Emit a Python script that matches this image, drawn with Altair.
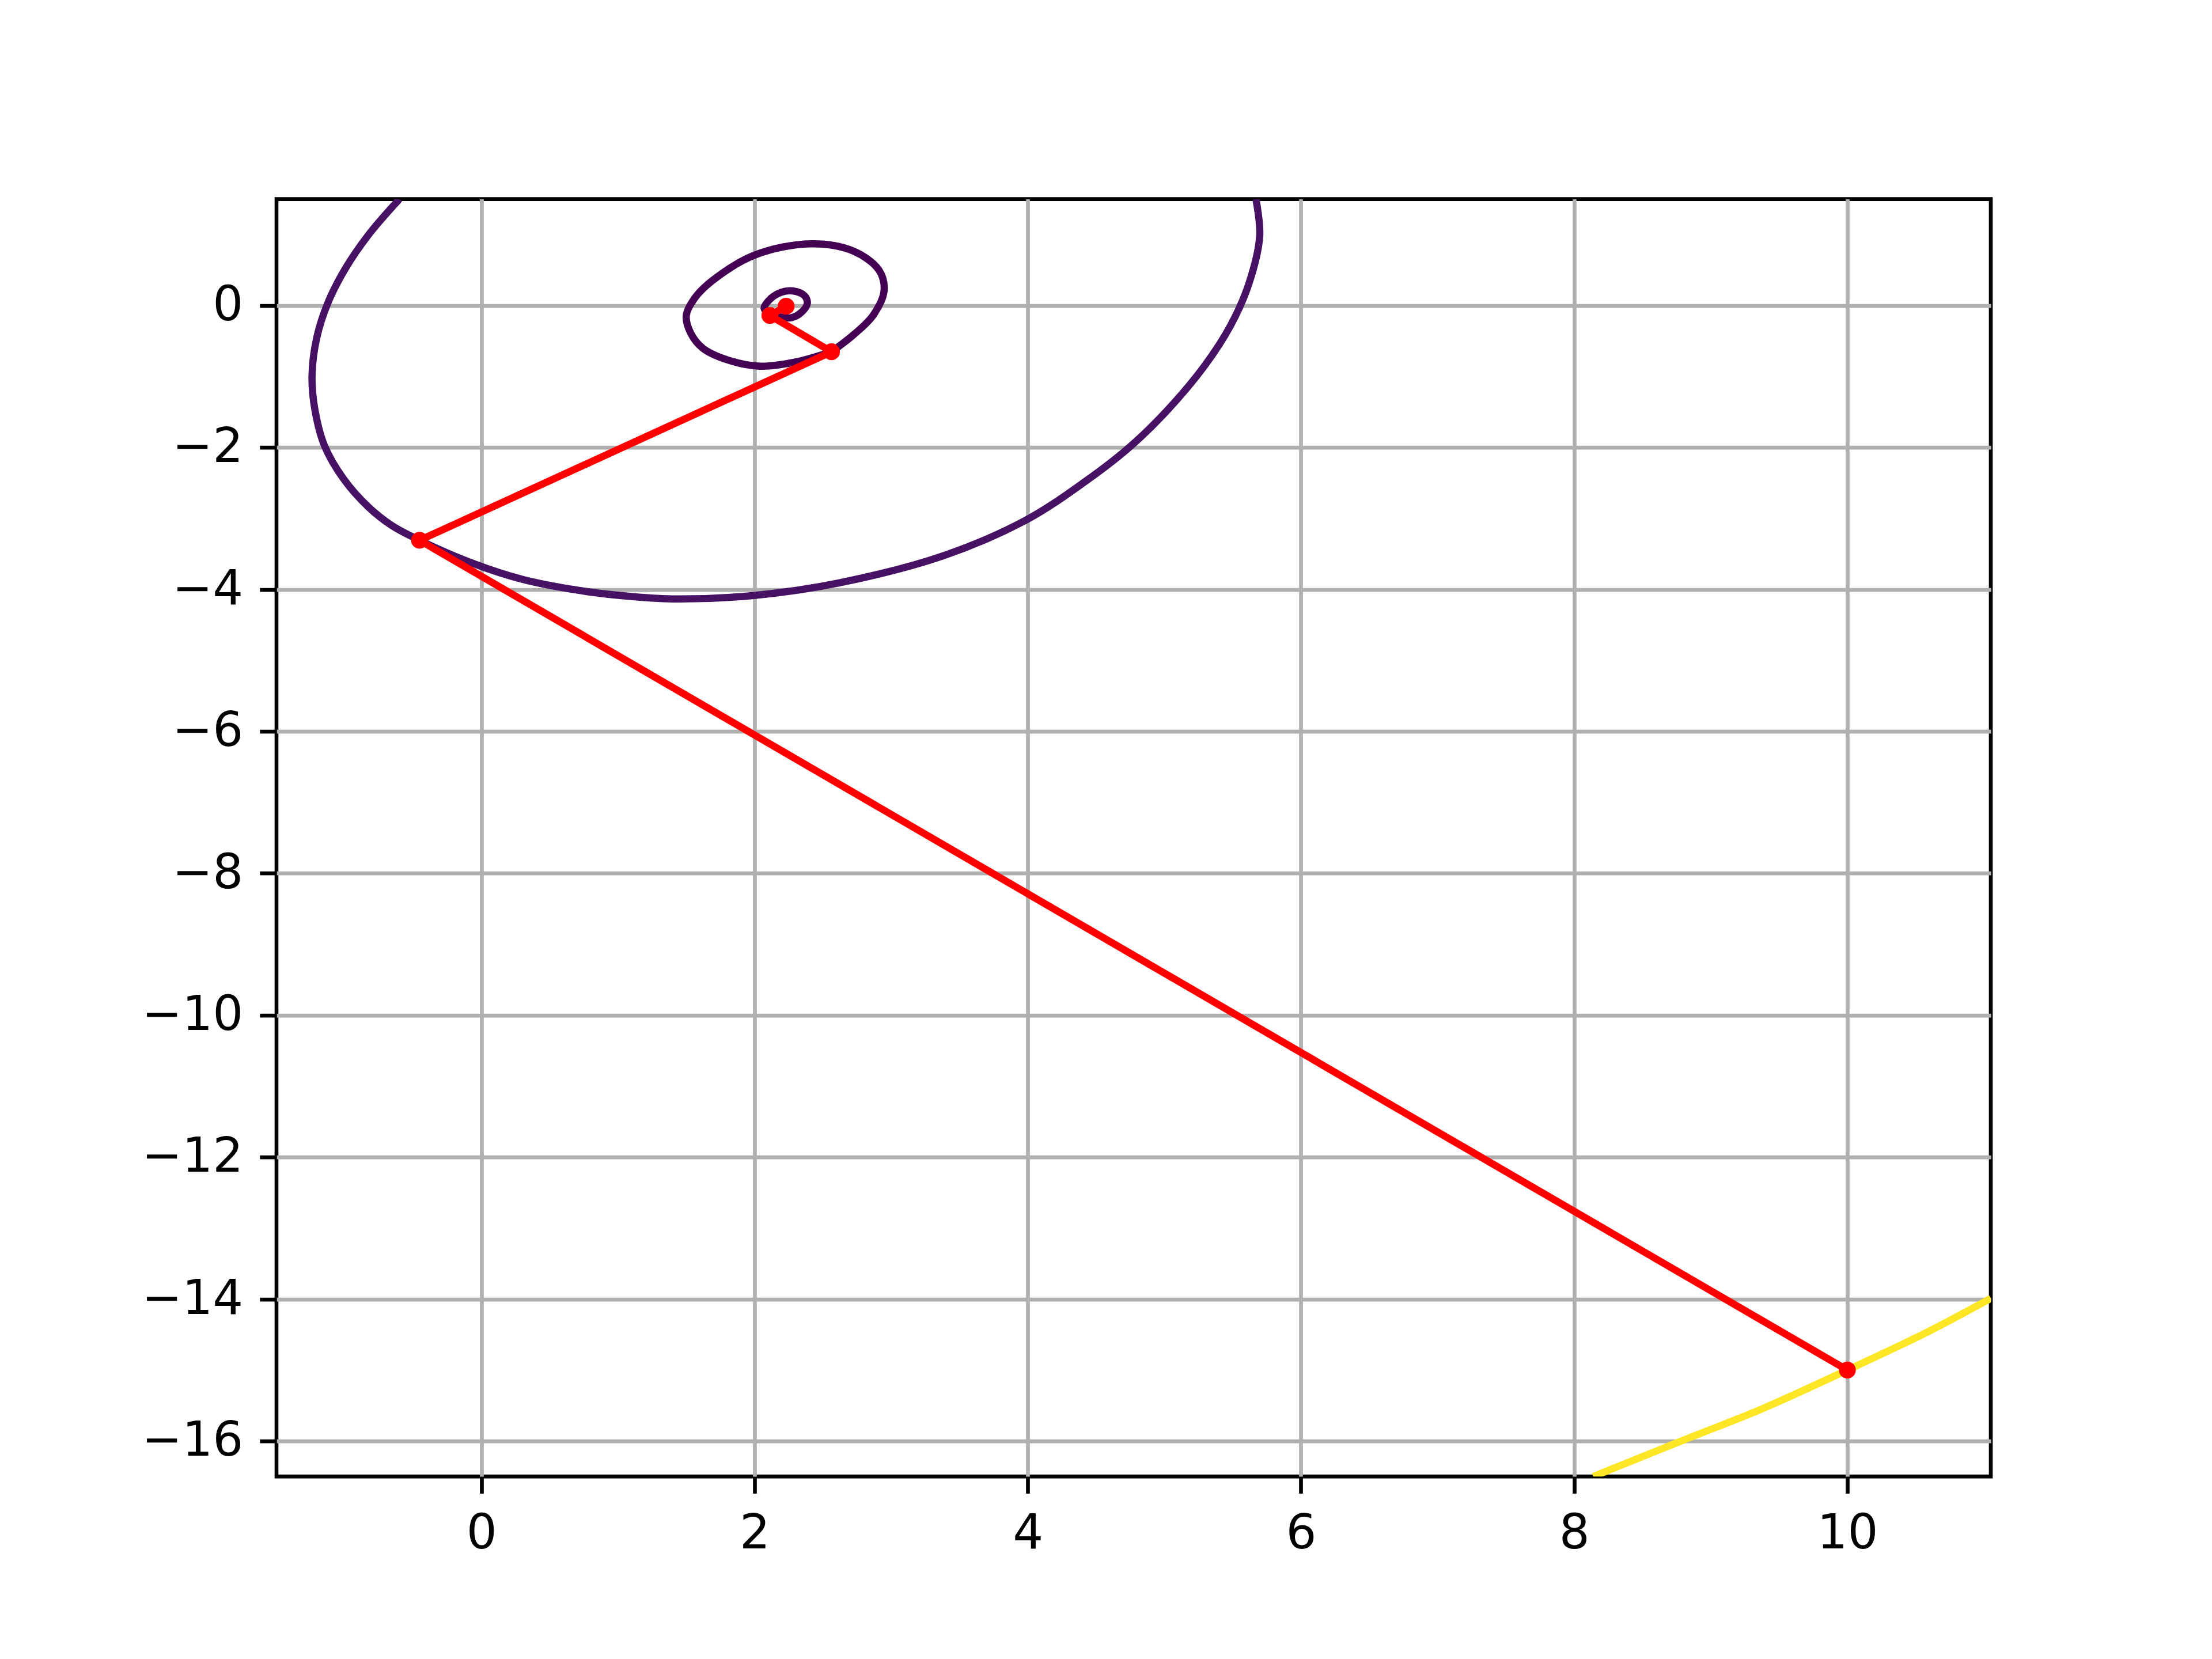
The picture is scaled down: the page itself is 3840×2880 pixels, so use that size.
import altair as alt
import pandas as pd

# ---- values ----
# outer contour (level through the 2nd iterate), open at the top edge
outer_x = [-0.60, -0.825, -0.994, -1.12, -1.205, -1.24, -1.219, -1.149, -1.008, -0.825,
           -0.656, -0.453, -0.052, 0.30, 0.735, 1.10, 1.43, 1.995, 2.614, 3.39,
           3.99, 4.42, 4.73, 5.00, 5.29, 5.485, 5.62, 5.698, 5.67]
outer_y = [1.50, 1.00, 0.527, 0.055, -0.45, -0.995, -1.466, -1.974, -2.445, -2.843,
           -3.10, -3.308, -3.64, -3.858, -4.02, -4.10, -4.135, -4.085, -3.91, -3.52,
           -3.02, -2.48, -2.02, -1.52, -0.86, -0.28, 0.316, 0.986, 1.50]
# middle closed contour (through the 3rd iterate)
mid_x = [2.563, 2.73, 2.87, 2.948, 2.91, 2.72, 2.41, 2.00, 1.69, 1.56,
         1.50, 1.53, 1.62, 1.80, 2.04, 2.29, 2.563]
mid_y = [-0.652, -0.403, -0.132, 0.21, 0.50, 0.77, 0.87, 0.71, 0.35, 0.10,
         -0.14, -0.38, -0.60, -0.765, -0.855, -0.80, -0.652]
# inner closed contour (through the 4th iterate)
inner_x = [2.112, 2.07, 2.11, 2.195, 2.28, 2.365, 2.386, 2.337, 2.267, 2.185, 2.112]
inner_y = [-0.14, -0.04, 0.084, 0.187, 0.206, 0.139, 0.03, -0.105, -0.173, -0.16, -0.14]
# highest contour (through the starting point), bottom right
top_x = [8.14, 8.79, 9.371, 10.0, 10.58, 11.05]
top_y = [-16.5, -15.995, -15.55, -15.0, -14.47, -13.99]

# descent path
path_x = [10.0, -0.453, 2.563, 2.112, 2.231]
path_y = [-15.0, -3.308, -0.652, -0.14, -0.01]

x_ticks = [0, 2, 4, 6, 8, 10]
y_ticks = [-16, -14, -12, -10, -8, -6, -4, -2, 0]

levels = ["outer", "mid", "inner", "top"]
level_colors = ["#471164", "#440154", "#440154", "#fde725"]

# ---- tables ----
rows = []
for name, xs, ys in [("outer", outer_x, outer_y), ("mid", mid_x, mid_y),
                     ("inner", inner_x, inner_y), ("top", top_x, top_y)]:
    for i, (a, b) in enumerate(zip(xs, ys)):
        rows.append({"x": a, "y": b, "level": name, "i": i})
contours = pd.DataFrame(rows)
path = pd.DataFrame({"x": path_x, "y": path_y, "step": list(range(len(path_x)))})

PT = 600 / 72.0


def xenc():
    return alt.X("x:Q", scale=alt.Scale(domain=[-1.5, 11.05], nice=False, zero=False),
                 axis=alt.Axis(values=x_ticks, title=None, format="d"))


def yenc():
    return alt.Y("y:Q", scale=alt.Scale(domain=[-16.5, 1.5], nice=False, zero=False),
                 axis=alt.Axis(values=y_ticks, title=None, format="d"))


contour_layer = alt.Chart(contours).mark_line(
    strokeWidth=1.5 * PT, clip=True, interpolate="catmull-rom", strokeCap="butt"
).encode(
    x=xenc(), y=yenc(),
    color=alt.Color("level:N", scale=alt.Scale(domain=levels, range=level_colors), legend=None),
    detail="level:N",
    order=alt.Order("i:Q"),
)

path_line = alt.Chart(path).mark_line(
    color="#ff0000", strokeWidth=1.5 * PT, clip=True, strokeJoin="round"
).encode(x=xenc(), y=yenc(), order=alt.Order("step:Q"))

path_pts = alt.Chart(path).mark_point(
    color="#ff0000", filled=True, opacity=1, size=855, shape="circle", clip=True
).encode(x=xenc(), y=yenc())

chart = alt.layer(contour_layer, path_line, path_pts).properties(
    width=2976, height=2217.6,
    padding={"left": 472, "top": 337.6, "right": 376, "bottom": 308.8},
    autosize=alt.AutoSizeParams(type="none"),
    background="white",
).configure_view(
    stroke="black", strokeWidth=0.8 * PT
).configure_axis(
    domain=False,
    grid=True, gridColor="#b0b0b0", gridWidth=0.8 * PT, gridOpacity=1,
    ticks=True, tickColor="black", tickWidth=0.8 * PT, tickSize=3.5 * PT,
    labelFont="DejaVu Sans", labelFontSize=10 * PT, labelColor="black",
    labelPadding=3.5 * PT, labelFlush=False, labelOverlap=False,
)

chart.save("out.html", embed_options={"renderer": "svg", "actions": False})
